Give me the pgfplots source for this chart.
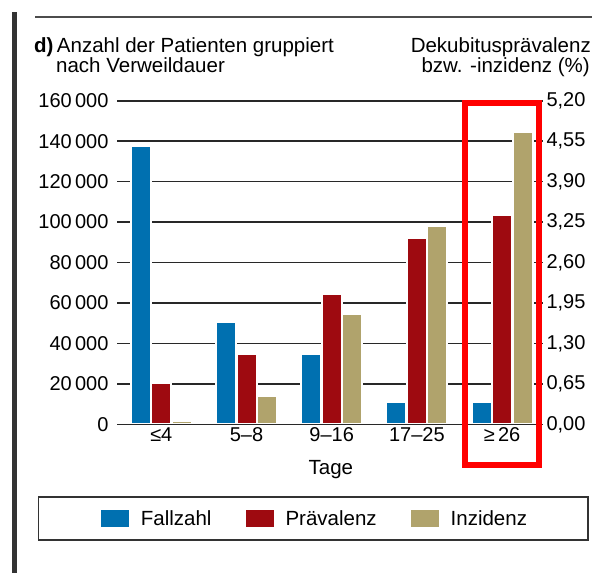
\documentclass[border=0pt]{standalone}
\usepackage{pgfplots}
\pgfplotsset{compat=1.18}
\usepackage{fontspec}
\setmainfont{Liberation Sans}
\definecolor{cBlue}{RGB}{0,112,176}
\definecolor{cRed}{RGB}{158,10,16}
\definecolor{cKhaki}{RGB}{176,163,108}
\definecolor{cGrid}{RGB}{40,40,40}
\newcommand\ff{\fontsize{20.5}{24}\selectfont}
\newcommand\tf{\fontsize{20}{24}\selectfont}
\pgfplotsset{
  base/.style={
    scale only axis, width=426pt, height=323.6pt,
    at={(117pt,-424.3pt)}, anchor=south west,
    xmin=-0.52, xmax=4.48, ymin=0,
    axis line style={draw=none},
    major tick length=0pt, tick style={draw=none},
    ybar, bar width=20pt,
    tick label style={font=\tf},
    scaled y ticks=false,
  },
  barsty/.style={fill=#1, draw=white, line width=2pt,
    legend image code/.code={\path[fill=#1] (0pt,-9.5pt) rectangle (30pt,9.5pt);}},
}
\begin{document}
\begin{tikzpicture}[x=1pt,y=1pt]
\path[use as bounding box] (0,0) rectangle (606,-573);
% frame elements
\draw[black!80, line width=4.5pt] (14.3,-12) -- (14.3,-573);
\draw[black!70, line width=1.8pt] (35,-17.3) -- (592,-17.3);
% titles
\node[anchor=base west, inner sep=0, font=\fontsize{20.5}{18.2}\selectfont, align=left] at (34,-72.7)
  {\textbf{d)}\,Anzahl der Patienten gruppiert\\\hspace*{22pt}nach Verweildauer};
\node[anchor=base east, inner sep=0, font=\fontsize{20.5}{18.2}\selectfont, align=right] at (591,-72.7)
  {Dekubitusprävalenz\\bzw. -inzidenz (\%)\hspace*{1pt}};

\begin{axis}[base, ymax=160000,
  xtick={0,1,2,3,4},
  xticklabels={≤4,5–8,9–16,17–25,≥\,26},
  ytick={0,20000,40000,60000,80000,100000,120000,140000,160000},
  yticklabels={0,20\,000,40\,000,60\,000,80\,000,100\,000,120\,000,140\,000,160\,000},
  yticklabel style={xshift=-5pt},
  ymajorgrids, grid style={cGrid, line width=1.6pt},
  xlabel={Tage},
  xlabel style={font=\ff, at={(axis description cs:0.502,-0.141)}, anchor=center},
]
\addplot[barsty=cBlue, bar shift=-20.5pt] coordinates {(0,137700) (1,50700) (2,34800) (3,10900) (4,10900)};
\end{axis}

\begin{axis}[base, ymax=5.2,
  xtick=\empty,
  ytick={0,0.65,1.3,1.95,2.6,3.25,3.9,4.55,5.2},
  yticklabels={{0,00},{0,65},{1,30},{1,95},{2,60},{3,25},{3,90},{4,55},{5,20}},
  yticklabel pos=right,
  clip=false,
  legend columns=3,
  legend style={at={(axis description cs:0.4624,-0.291)}, anchor=center,
    draw=none, fill=none, font=\ff,
    /tikz/every odd column/.append style={column sep=8pt},
    /tikz/every even column/.append style={column sep=30pt}},
]
\addlegendimage{barsty=cBlue}
\addlegendentry{Fallzahl}
\addplot[barsty=cRed, bar shift=0pt] coordinates {(0,0.67) (1,1.13) (2,2.10) (3,3.00) (4,3.37)};
\addlegendentry{Prävalenz}
\addplot[barsty=cKhaki, bar shift=20.5pt] coordinates {(0,0.06) (1,0.45) (2,1.77) (3,3.19) (4,4.70)};
\addlegendentry{Inzidenz}
\draw[cGrid, line width=1.6pt] (axis cs:-0.52,0) -- (axis cs:4.48,0);
\end{axis}
% legend frame
\draw[black!80, line width=1.8pt] (38.5,-497) rectangle (588,-540);
% highlight box
\draw[red, line width=6pt] (465,-103) rectangle (539,-465);
\end{tikzpicture}
\end{document}
